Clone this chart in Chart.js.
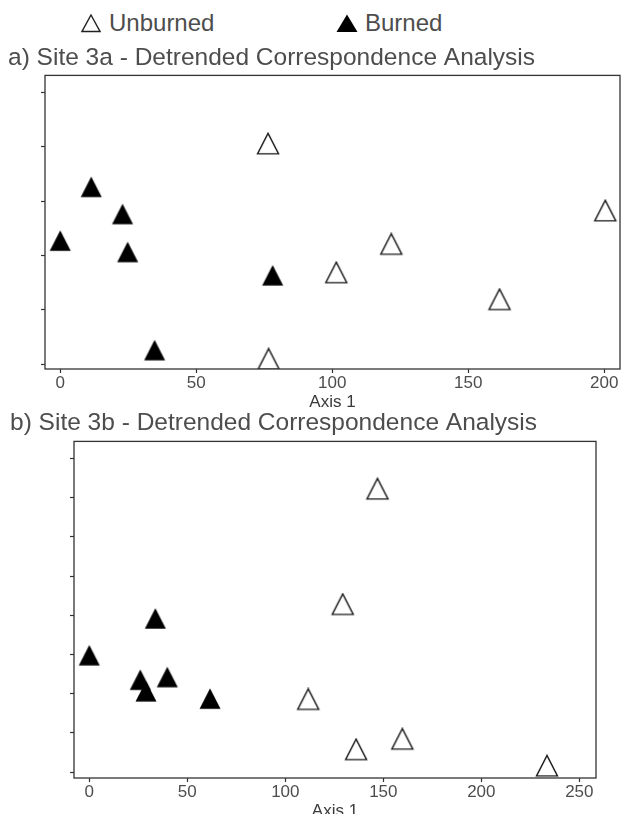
<!DOCTYPE html>
<html>
<head>
<meta charset="utf-8">
<script src="https://cdn.jsdelivr.net/npm/chart.js@4.4.1/dist/chart.umd.min.js"></script>
<style>
  html, body { margin: 0; padding: 0; background: #fff; overflow: hidden; }
  body { width: 621px; height: 814px; position: relative; font-family: "Liberation Sans", Arial, sans-serif; }
  .legend-mark { position: absolute; top: 14px; }
  .legend-text { position: absolute; top: 11px; font-size: 24px; line-height: 24px; color: #4d4d4d; }
  #wrapA { position: absolute; left: 0; top: 0; }
  #wrapB { position: absolute; left: 0; top: 404px; }
</style>
</head>
<body>
<svg class="legend-mark" style="left:81px" width="20" height="19"><polygon points="10,1 19,17.5 1,17.5" fill="none" stroke="#222" stroke-width="1.4"/></svg>
<div class="legend-text" style="left:109px">Unburned</div>
<svg class="legend-mark" style="left:336px" width="22" height="19"><polygon points="11,0.5 21.5,18 0.5,18" fill="#000"/></svg>
<div class="legend-text" style="left:365px">Burned</div>

<!-- chart A canvas runs past the right edge: Chart.js keeps room for the last tick label -->
<div id="wrapA"><canvas id="chartA" width="636" height="412"></canvas></div>
<div id="wrapB"><canvas id="chartB" width="621" height="420"></canvas></div>

<script>
// Site 3a
const unburnedAX = [76.4, 76.6, 101.5, 121.7, 161.5, 200.4];
const unburnedAY = [200, 1.6, 81.3, 107.5, 56.5, 138.3];
const burnedAX = [0, 11.4, 22.9, 24.8, 78.1, 34.7];
const burnedAY = [110.5, 160, 135, 100, 78.5, 9.6];
const xTicksA = [0, 50, 100, 150, 200];
const yTicksA = [0, 50, 100, 150, 200, 250];

// Site 3b
const unburnedBX = [111.7, 147, 129.3, 136.1, 159.7, 233.5];
const unburnedBY = [88.8, 357.3, 210, 24.7, 38.1, 3.8];
const burnedBX = [0, 33.7, 28.9, 26, 39.8, 61.6];
const burnedBY = [144.6, 191.6, 98.6, 113.4, 116.8, 89.3];
const xTicksB = [0, 50, 100, 150, 200, 250];
const yTicksB = [0, 50, 100, 150, 200, 250, 300, 350, 400];

const TEXT = '#4d4d4d';
const LINE = '#333333';
const FONT = '"Liberation Sans", Arial, sans-serif';

// triangle marker, centroid at the image centre
function triangleImage(filled) {
  const c = document.createElement('canvas');
  c.width = 30; c.height = 30;
  const g = c.getContext('2d');
  const h = 20.5, w = 21;
  const cx = 15, cy = 15;
  g.beginPath();
  g.moveTo(cx, cy - h * 2 / 3);
  g.lineTo(cx + w / 2, cy + h / 3);
  g.lineTo(cx - w / 2, cy + h / 3);
  g.closePath();
  if (filled) {
    g.fillStyle = '#000';
    g.fill();
  } else {
    g.lineWidth = 1.4;
    g.strokeStyle = '#1a1a1a';
    g.stroke();
  }
  return c;
}
const openTri = triangleImage(false);
const fullTri = triangleImage(true);

const toPoints = (xs, ys) => xs.map((x, i) => ({ x: x, y: ys[i] }));

// outer frame of the plot panel
const framePlugin = {
  id: 'frame',
  afterDraw(chart) {
    const { ctx, chartArea: a } = chart;
    ctx.save();
    ctx.strokeStyle = LINE;
    ctx.lineWidth = 1.3;
    ctx.strokeRect(a.left, a.top, a.right - a.left, a.bottom - a.top);
    ctx.restore();
  }
};

function buildChart(id, opt) {
  return new Chart(document.getElementById(id), {
    type: 'scatter',
    data: {
      datasets: [
        { label: 'Unburned', data: toPoints(opt.ux, opt.uy), pointStyle: openTri, pointRadius: 15, pointHoverRadius: 15 },
        { label: 'Burned', data: toPoints(opt.bx, opt.by), pointStyle: fullTri, pointRadius: 15, pointHoverRadius: 15 }
      ]
    },
    options: {
      responsive: false,
      animation: false,
      events: [],
      layout: { padding: opt.padding },
      plugins: {
        legend: { display: false },
        tooltip: { enabled: false },
        title: {
          display: true,
          text: opt.title,
          align: 'start',
          color: TEXT,
          font: { family: FONT, size: 24.5, weight: 'normal', lineHeight: 1.2 },
          padding: opt.titlePad
        }
      },
      scales: {
        x: {
          type: 'linear',
          min: opt.xMin, max: opt.xMax,
          afterBuildTicks: axis => { axis.ticks = opt.xTicks.map(v => ({ value: v })); },
          afterFit: axis => { axis.height = 43; },
          grid: { drawOnChartArea: false, drawTicks: true, tickLength: 4, color: LINE, tickWidth: 1.2 },
          border: { display: false },
          ticks: { color: TEXT, padding: 2, maxRotation: 0, font: { family: FONT, size: 17, lineHeight: 1 } },
          title: { display: true, text: 'Axis 1', color: '#3a3a3a', padding: { top: 0, bottom: 1.5 },
                   font: { family: FONT, size: 17, lineHeight: 1 } }
        },
        y: {
          type: 'linear',
          min: opt.yMin, max: opt.yMax,
          afterBuildTicks: axis => { axis.ticks = opt.yTicks.map(v => ({ value: v })); },
          afterFit: axis => { axis.width = opt.yWidth; },
          grid: { drawOnChartArea: false, drawTicks: true, tickLength: 4, color: LINE, tickWidth: 1.2 },
          border: { display: false },
          ticks: { display: false }
        }
      }
    },
    plugins: [framePlugin]
  });
}

buildChart('chartA', {
  title: 'a) Site 3a - Detrended Correspondence Analysis',
  ux: unburnedAX, uy: unburnedAY, bx: burnedAX, by: burnedAY,
  xTicks: xTicksA, yTicks: yTicksA,
  xMin: -5.6, xMax: 205.8, yMin: -4.6, yMax: 265.9,
  yWidth: 37,
  padding: { left: 8, right: 1, top: 0, bottom: 0 },
  titlePad: { top: 44, bottom: 2 }
});

buildChart('chartB', {
  title: 'b) Site 3b - Detrended Correspondence Analysis',
  ux: unburnedBX, uy: unburnedBY, bx: burnedBX, by: burnedBY,
  xTicks: xTicksB, yTicks: yTicksB,
  xMin: -7.8, xMax: 258.5, yMin: -7.6, yMax: 422,
  yWidth: 64,
  padding: { left: 10, right: 25, top: 0, bottom: 3 },
  titlePad: { top: 5, bottom: 3 }
});
</script>
</body>
</html>
